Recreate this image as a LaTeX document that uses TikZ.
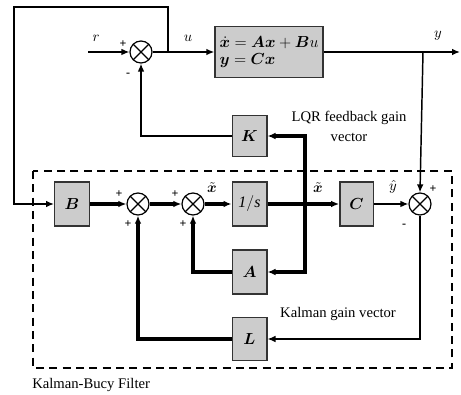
\documentclass[tikz,border=0pt]{standalone}
\usepackage{amsmath, amssymb, bm}
\usepackage{fontspec}
\setmainfont{Liberation Serif}
\usepackage{tikz}
\usetikzlibrary{arrows.meta, positioning, calc}

\tikzset{
  blk/.style={draw=black!80, rectangle, fill=gray!40, line width=1pt, minimum width=26pt, minimum height=33pt, inner sep=1pt, font=\fontsize{12}{14}\selectfont},
  sumnode/.style={draw, circle, line width=0.9pt, minimum size=16.5pt, inner sep=0pt,
    path picture={\draw [line width=0.9pt] (path picture bounding box.north west) -- (path picture bounding box.south east)
                   (path picture bounding box.north east) -- (path picture bounding box.south west);}},
  sig/.style={line width=1.1pt},
  bus/.style={line width=2.6pt},
  sgn/.style={font=\bfseries\fontsize{9}{10}\selectfont, inner sep=0pt},
  lbl/.style={font=\fontsize{11}{13}\selectfont, inner sep=0pt}
}

\begin{document}
\begin{tikzpicture}[x=0.75pt, y=-0.75pt, >={Latex[length=6pt, width=5pt]}]
  \useasboundingbox (0,0) rectangle (461,395);

  % plant and LQR loop
  \node [sumnode] (s1) at (141,52) {};
  \node [blk, minimum width=81pt, minimum height=38pt, align=left, font=\fontsize{11.5}{13}\selectfont] (plant) at (269,52)
  {$\bm{\dot x} = \bm{A}\bm{x} + \bm{B}u$\\ $\bm{y} = \bm{C}\bm{x}$};
  \node [blk, minimum height=31pt] (K) at (249.5,136) {$\bm{K}$};

  % Kalman-Bucy filter
  \node [blk] (B) at (72,204) {$\bm{B}$};
  \node [sumnode] (s2) at (138,204) {};
  \node [sumnode] (s3) at (193,204) {};
  \node [blk] (integ) at (249.5,204) {$\mathit{1/s}$};
  \node [blk, minimum width=25pt] (C) at (356.5,204) {$\bm{C}$};
  \node [sumnode] (s4) at (420,204) {};
  \node [blk] (A) at (249.5,272) {$\bm{A}$};
  \node [blk, minimum height=32pt] (L) at (249.5,339) {$\bm{L}$};

  \coordinate (rin) at (88,52);
  \coordinate (yout) at (460,52);
  \coordinate (utap) at (168,52);
  \coordinate (ytap) at (423,52);
  \coordinate (ltop) at (14,7);
  \coordinate (xtap) at (305,204);

  \draw [dashed, line width=1pt, dash pattern=on 6pt off 4pt] (33,171) rectangle (452,368);

  \draw [sig, ->] (rin) -- (s1.west);
  \draw [sig, ->] (s1.east) -- (plant.west);
  \draw [sig, ->] (plant.east) -- (yout);
  \draw [sig, ->] (ytap) -- (s4.north);
  \draw [sig, ->] (utap) |- (ltop) |- (B.west);
  \draw [sig, ->] (K.west) -| (s1.south);

  \draw [bus, ->] (B.east) -- (s2.west);
  \draw [bus, ->] (s2.east) -- (s3.west);
  \draw [bus, ->] (s3.east) -- (integ.west);
  \draw [bus, ->] (integ.east) -- (C.west);
  \draw [bus, ->] (xtap) |- (K.east);
  \draw [bus, ->] (xtap) |- (A.east);
  \draw [bus, ->] (A.west) -| (s3.south);
  \draw [bus, ->] (L.west) -| (s2.south);

  \draw [sig, ->] (C.east) -- (s4.west);
  \draw [sig, ->] (s4.south) |- (L.east);

  % signs
  \node [sgn] at (123,44) {+};
  \node [sgn] at (128,75) {-};
  \node [sgn] at (119,194) {+};
  \node [sgn] at (128,224) {+};
  \node [sgn] at (175,194) {+};
  \node [sgn] at (183,224) {+};
  \node [sgn] at (433,189) {+};
  \node [sgn] at (404,226) {-};

  % signal names
  \node [lbl] at (96,38) {$r$};
  \node [lbl] at (188,38) {$u$};
  \node [lbl] at (438,36) {$y$};
  \node [lbl] at (212,188) {$\tilde{\bm{x}}$};
  \node [lbl] at (318,188) {$\tilde{\bm{x}}$};
  \node [lbl] at (393,187) {$\hat{y}$};

  \node [lbl, align=center] at (349,126) {LQR feedback gain\\[2pt] vector};
  \node [lbl] at (338,314) {Kalman gain vector};
  \node [lbl, anchor=west] at (32,385) {Kalman-Bucy Filter};
\end{tikzpicture}
\end{document}
